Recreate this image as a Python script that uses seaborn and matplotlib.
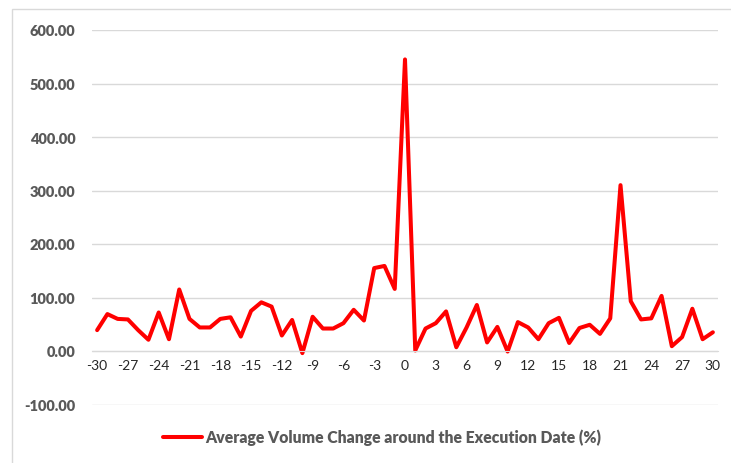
import matplotlib
matplotlib.use("Agg")
import matplotlib.pyplot as plt
from matplotlib.patches import Rectangle
import seaborn as sns
import pandas as pd

# days relative to the execution date
days = list(range(-30, 31))
# average volume change (%)
volume_change = [
    39, 69, 60, 59, 39, 21, 72, 22, 115, 60,
    44, 44, 60, 63, 27, 75, 91, 83, 29, 58,
    -4, 64, 42, 42, 52, 77, 57, 155, 159, 116,
    545, 1, 42, 52, 74, 7, 44, 86, 16, 45,
    -1, 54, 44, 22, 52, 62, 15, 43, 49, 32,
    61, 310, 93, 59, 61, 103, 9, 26, 79, 22,
    35,
]
x_ticks = list(range(-30, 31, 3))
y_ticks = [-100, 0, 100, 200, 300, 400, 500, 600]
series_name = "Average Volume Change around the Execution Date (%)"

df = pd.DataFrame({"Day": days, "Change": volume_change})

sns.set_style("white")
plt.rcParams["font.family"] = ["Lato", "DejaVu Sans"]
text_color = "#595959"
grid_color = "#d9d9d9"

fig = plt.figure(figsize=(7.31, 4.64), dpi=100)
# chart area border
fig.patches.append(Rectangle((12 / 731, -0.1), 1.2, 1 - 10 / 464 + 0.1,
                             transform=fig.transFigure, fill=False,
                             edgecolor=grid_color, linewidth=1))

ax = fig.add_axes([92 / 731, 1 - 405.5 / 464, 626 / 731, (405.5 - 31) / 464])
sns.lineplot(data=df, x="Day", y="Change", ax=ax, color="#ff0000",
             linewidth=2.9, label=series_name, legend=False)

ax.set_xlim(-30.5, 30.5)
ax.set_ylim(-100, 600)
ax.set_yticks(y_ticks)
ax.set_yticklabels([f"{v:.2f}" for v in y_ticks], fontsize=10.5,
                   fontweight="heavy", color=text_color)
ax.set_xticks(x_ticks)
ax.set_xticklabels([str(v) for v in x_ticks], fontsize=11,
                   fontweight="heavy", color=text_color)
ax.tick_params(axis="both", length=0)
ax.tick_params(axis="y", pad=12)
ax.tick_params(axis="x", pad=6)
ax.yaxis.grid(True, color=grid_color, linewidth=1)
ax.set_axisbelow(True)
for side in ["top", "right", "left"]:
    ax.spines[side].set_visible(False)
ax.spines["bottom"].set_position(("data", 0))
ax.spines["bottom"].set_color(grid_color)
ax.set_xlabel("")
ax.set_ylabel("")

handles, labels = ax.get_legend_handles_labels()
leg = fig.legend(handles, labels, loc="center", bbox_to_anchor=(382 / 731, 1 - 438 / 464),
                 frameon=False, handlelength=2.5, handletextpad=0.2,
                 prop={"size": 11.3, "weight": "heavy"})
for t in leg.get_texts():
    t.set_color(text_color)

fig.savefig("out.png", dpi=100)
plt.close(fig)
